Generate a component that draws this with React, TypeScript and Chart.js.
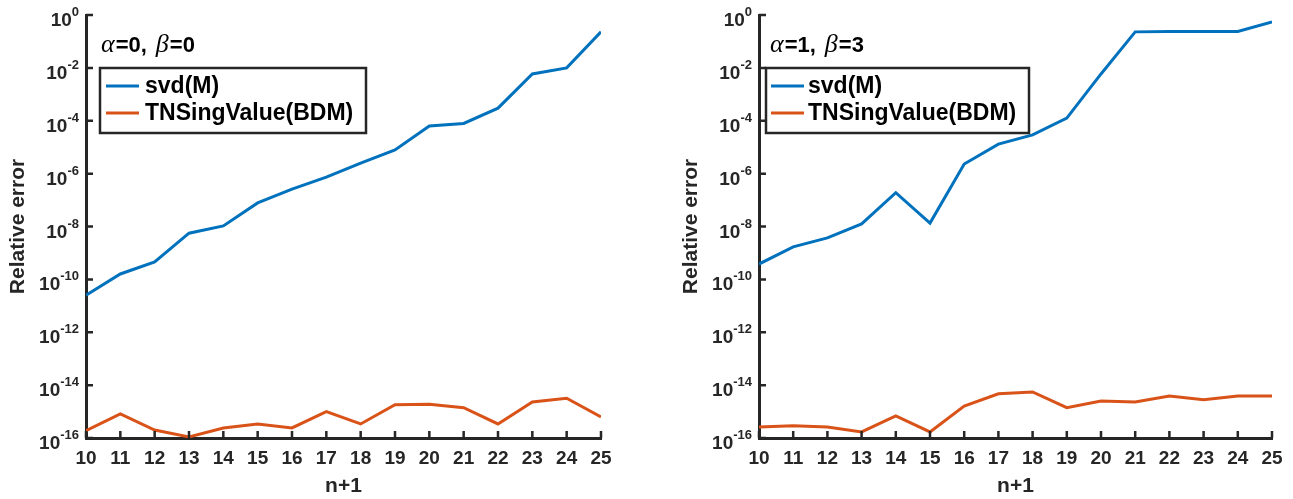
import React, { useEffect, useRef } from "react";
import { Chart, registerables } from "chart.js";

Chart.register(...registerables);

// ---- data ----
const nPlus1 = [10, 11, 12, 13, 14, 15, 16, 17, 18, 19, 20, 21, 22, 23, 24, 25];
const svdA0B0 = [2.5e-11, 1.6e-10, 4.6e-10, 5.6e-9, 1.05e-8, 7.8e-8, 2.6e-7, 7.4e-7, 2.5e-6, 7.9e-6, 6.3e-5, 7.9e-5, 3.0e-4, 5.9e-3, 1.0e-2, 0.23];
const tnsA0B0 = [1.9e-16, 8.1e-16, 2.0e-16, 1.1e-16, 2.4e-16, 3.4e-16, 2.4e-16, 1.0e-15, 3.4e-16, 1.8e-15, 1.9e-15, 1.4e-15, 3.4e-16, 2.3e-15, 3.2e-15, 6.3e-16];
const svdA1B3 = [3.8e-10, 1.7e-9, 3.7e-9, 1.26e-8, 1.9e-7, 1.35e-8, 2.3e-6, 1.3e-5, 2.9e-5, 1.26e-4, 5.9e-3, 0.23, 0.24, 0.24, 0.24, 0.55];
const tnsA1B3 = [2.6e-16, 2.9e-16, 2.6e-16, 1.7e-16, 6.8e-16, 1.7e-16, 1.6e-15, 4.7e-15, 5.5e-15, 1.4e-15, 2.5e-15, 2.3e-15, 3.9e-15, 2.8e-15, 3.9e-15, 3.9e-15];
const yTickValues = [1e-16, 1e-14, 1e-12, 1e-10, 1e-8, 1e-6, 1e-4, 1e-2, 1];
const seriesLabels = ["svd(M)", "TNSingValue(BDM)"];
const seriesColors = ["#0072BD", "#D95319"];
const xTitle = "n+1";
const yTitle = "Relative error";
const titleA0B0 = [["α", "greek"], ["=0,", "text"], [" ", "gap"], ["β", "greek"], ["=0", "text"]];
const titleA1B3 = [["α", "greek"], ["=1,", "text"], [" ", "gap"], ["β", "greek"], ["=3", "text"]];

const SANS = '"Liberation Sans", Arial, Helvetica, sans-serif';
const SERIF = '"Liberation Serif", "Times New Roman", serif';
const INK = "#262626";

type PanelCfg = {
  svd: number[];
  tns: number[];
  title: string[][];
  width: number;
  padLeft: number;
  padRight: number;
  yAxisWidth: number;
  titleDx: number;
  legendDx: number;
  legendW: number;
  legendLineDx: number;
  legendTextDx: number;
};

function overlayPlugin(cfg: PanelCfg) {
  return {
    id: "overlay",
    afterDraw(chart: any) {
      const { ctx, chartArea } = chart;
      const x = chart.scales.x;
      const y = chart.scales.y;
      ctx.save();
      // inward tick marks
      ctx.strokeStyle = INK;
      ctx.lineWidth = 2.5;
      ctx.beginPath();
      nPlus1.forEach((v) => {
        const px = x.getPixelForValue(v);
        ctx.moveTo(px, chartArea.bottom);
        ctx.lineTo(px, chartArea.bottom - 7);
      });
      yTickValues.forEach((v) => {
        const py = y.getPixelForValue(v);
        ctx.moveTo(chartArea.left, py);
        ctx.lineTo(chartArea.left + 7, py);
      });
      ctx.stroke();

      // y tick labels: 10 with superscript exponent
      ctx.fillStyle = INK;
      ctx.textBaseline = "alphabetic";
      ctx.textAlign = "left";
      yTickValues.forEach((v) => {
        const py = y.getPixelForValue(v);
        const exp = String(Math.round(Math.log10(v)));
        ctx.font = `bold 13px ${SANS}`;
        const ew = ctx.measureText(exp).width;
        ctx.font = `bold 19px ${SANS}`;
        const bw = ctx.measureText("10").width;
        const right = chartArea.left - 7;
        const x0 = right - ew - bw;
        ctx.fillText("10", x0, py + 11);
        ctx.font = `bold 13px ${SANS}`;
        ctx.fillText(exp, x0 + bw, py + 1);
      });

      // panel title
      let tx = chartArea.left + cfg.titleDx;
      const ty = 52;
      ctx.fillStyle = "#000";
      cfg.title.forEach(([t, kind]) => {
        if (kind === "gap") {
          tx += 9;
          return;
        }
        ctx.font = kind === "greek" ? `italic 26px ${SERIF}` : `bold 22px ${SANS}`;
        ctx.fillText(t, tx, ty);
        tx += ctx.measureText(t).width + (kind === "greek" ? 1 : 0);
      });

      // legend
      const bx = chartArea.left + cfg.legendDx;
      const by = 68;
      const bh = 65;
      ctx.fillStyle = "#fff";
      ctx.fillRect(bx, by, cfg.legendW, bh);
      ctx.strokeStyle = INK;
      ctx.lineWidth = 2.5;
      ctx.strokeRect(bx, by, cfg.legendW, bh);
      const rows = [86, 113];
      seriesLabels.forEach((lab, i) => {
        ctx.strokeStyle = seriesColors[i];
        ctx.lineWidth = 3;
        ctx.beginPath();
        ctx.moveTo(bx + cfg.legendLineDx, rows[i]);
        ctx.lineTo(bx + cfg.legendLineDx + 33, rows[i]);
        ctx.stroke();
        ctx.fillStyle = "#000";
        ctx.font = `bold 23px ${SANS}`;
        ctx.textBaseline = "middle";
        ctx.fillText(lab, bx + cfg.legendTextDx, rows[i] + 1);
      });
      ctx.restore();
    },
  };
}

function Panel({ cfg, left }: { cfg: PanelCfg; left: number }) {
  const ref = useRef<HTMLCanvasElement | null>(null);
  useEffect(() => {
    if (!ref.current) return;
    const chart = new Chart(ref.current, {
      type: "line",
      data: {
        datasets: [
          {
            label: seriesLabels[0],
            data: nPlus1.map((n, i) => ({ x: n, y: cfg.svd[i] })),
            borderColor: seriesColors[0],
            backgroundColor: seriesColors[0],
            borderWidth: 3,
            pointRadius: 0,
            tension: 0,
            fill: false,
          },
          {
            label: seriesLabels[1],
            data: nPlus1.map((n, i) => ({ x: n, y: cfg.tns[i] })),
            borderColor: seriesColors[1],
            backgroundColor: seriesColors[1],
            borderWidth: 3,
            pointRadius: 0,
            tension: 0,
            fill: false,
          },
        ],
      },
      options: {
        animation: false,
        responsive: false,
        maintainAspectRatio: false,
        layout: { padding: { left: cfg.padLeft, right: cfg.padRight, top: 15, bottom: 0 } },
        plugins: { legend: { display: false }, tooltip: { enabled: false }, title: { display: false } },
        scales: {
          x: {
            type: "linear",
            min: 10,
            max: 25,
            afterBuildTicks: (s: any) => {
              s.ticks = nPlus1.map((v) => ({ value: v }));
            },
            afterFit: (s: any) => {
              s.height = 61;
            },
            ticks: {
              autoSkip: false,
              maxRotation: 0,
              padding: 9,
              color: INK,
              font: { family: SANS, size: 19, weight: "bold" },
              callback: (v: any) => String(v),
            },
            grid: { display: false, drawTicks: false },
            border: { display: true, color: INK, width: 3 },
            title: {
              display: true,
              text: xTitle,
              color: INK,
              font: { family: SANS, size: 21, weight: "bold" },
              padding: { top: 0, bottom: 0 },
            },
          },
          y: {
            type: "logarithmic",
            min: 1e-16,
            max: 1,
            afterBuildTicks: (s: any) => {
              s.ticks = yTickValues.map((v) => ({ value: v }));
            },
            afterFit: (s: any) => {
              s.width = cfg.yAxisWidth;
            },
            ticks: { display: false, autoSkip: false },
            grid: { display: false, drawTicks: false },
            border: { display: true, color: INK, width: 3 },
            title: {
              display: true,
              text: yTitle,
              color: INK,
              font: { family: SANS, size: 21, weight: "bold" },
              padding: { top: 4, bottom: 0 },
            },
          },
        },
      } as any,
      plugins: [overlayPlugin(cfg)],
    });
    return () => chart.destroy();
  }, [cfg]);
  return (
    <canvas
      ref={ref}
      width={cfg.width}
      height={499}
      style={{ position: "absolute", left, top: 0, width: cfg.width, height: 499 }}
    />
  );
}

const leftCfg: PanelCfg = {
  svd: svdA0B0,
  tns: tnsA0B0,
  title: titleA0B0,
  width: 646,
  padLeft: 2,
  padRight: 45,
  yAxisWidth: 84,
  titleDx: 15,
  legendDx: 14,
  legendW: 266,
  legendLineDx: 6,
  legendTextDx: 45,
};

const rightCfg: PanelCfg = {
  svd: svdA1B3,
  tns: tnsA1B3,
  title: titleA1B3,
  width: 647,
  padLeft: 29,
  padRight: 21,
  yAxisWidth: 84,
  titleDx: 11,
  legendDx: 7,
  legendW: 263,
  legendLineDx: 5,
  legendTextDx: 42,
};

export default function App() {
  return (
    <div
      style={{
        position: "fixed",
        left: 0,
        top: 0,
        width: 1293,
        height: 499,
        background: "#fff",
        overflow: "hidden",
      }}
    >
      <Panel cfg={leftCfg} left={0} />
      <Panel cfg={rightCfg} left={646} />
    </div>
  );
}
